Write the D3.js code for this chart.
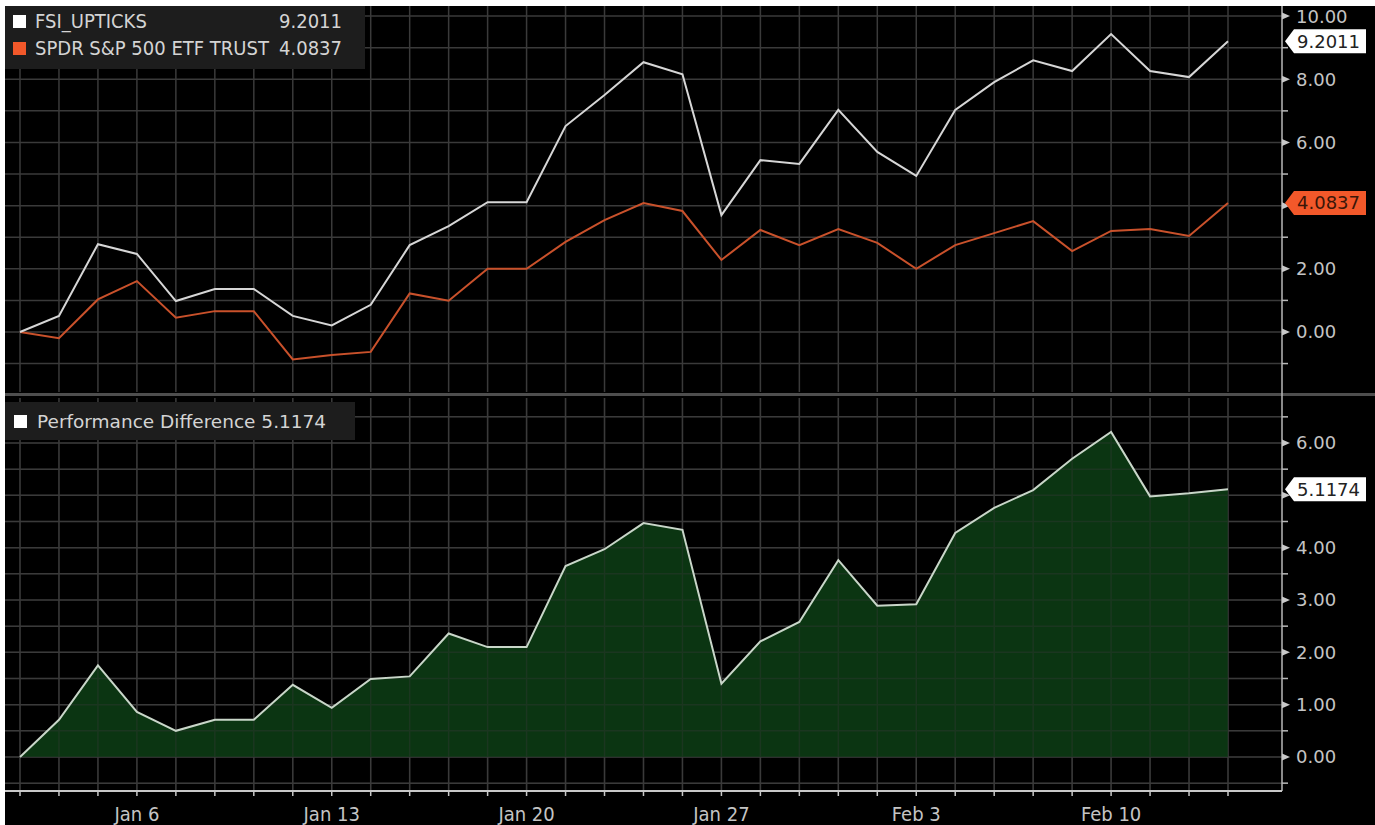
<!DOCTYPE html>
<html>
<head>
<meta charset="utf-8">
<script src="https://cdn.jsdelivr.net/npm/d3@7"></script>
<style>
  html, body { margin: 0; padding: 0; background: #fff; }
  svg { display: block; }
  .axis-label { fill: #c4c4c4; font: 18px "DejaVu Sans", sans-serif; }
  .x-label { fill: #c4c4c4; font: 20px "DejaVu Sans Condensed", "DejaVu Sans", sans-serif; font-stretch: condensed; }
  .legend-top { fill: #d4d4d4; font: 20px "DejaVu Sans Condensed", "DejaVu Sans", sans-serif; font-stretch: condensed; }
  .legend-bot { fill: #d4d4d4; font: 18.5px "DejaVu Sans", sans-serif; }
  .tag-text { font: 18px "DejaVu Sans", sans-serif; }
</style>
</head>
<body>
<div id="chart"></div>
<script>
// data ======================================================================
let dates = ["Jan 1", "Jan 2", "Jan 3", "Jan 6", "Jan 7", "Jan 8", "Jan 9", "Jan 10",
  "Jan 13", "Jan 14", "Jan 15", "Jan 16", "Jan 17", "Jan 20", "Jan 21", "Jan 22",
  "Jan 23", "Jan 24", "Jan 27", "Jan 28", "Jan 29", "Jan 30", "Jan 31", "Feb 3",
  "Feb 4", "Feb 5", "Feb 6", "Feb 7", "Feb 10", "Feb 11", "Feb 12", "Feb 13"];

let fsiUpticks = [0, 0.51, 2.78, 2.47, 0.98, 1.36, 1.36, 0.51, 0.21, 0.86, 2.75, 3.35,
  4.11, 4.11, 6.52, 7.5, 8.54, 8.16, 3.7, 5.44, 5.32, 7.03, 5.7, 4.94,
  7.03, 7.91, 8.6, 8.26, 9.43, 8.26, 8.07, 9.2011];

let spdr = [0, -0.2, 1.03, 1.61, 0.45, 0.66, 0.66, -0.87, -0.73, -0.63, 1.22, 0.99,
  2.0, 2.0, 2.85, 3.54, 4.08, 3.83, 2.28, 3.23, 2.75, 3.26, 2.82, 2.0,
  2.75, 3.13, 3.51, 2.56, 3.2, 3.26, 3.04, 4.0837];

let perfDiff = [0, 0.71, 1.75, 0.86, 0.5, 0.71, 0.71, 1.38, 0.94, 1.49, 1.54, 2.36,
  2.1, 2.1, 3.65, 3.97, 4.47, 4.34, 1.4, 2.21, 2.58, 3.76, 2.89, 2.92,
  4.28, 4.76, 5.1, 5.7, 6.21, 4.98, 5.04, 5.1174];

let xTickLabels = ["Jan 6", "Jan 13", "Jan 20", "Jan 27", "Feb 3", "Feb 10"];
let topTicks = [0, 2, 4, 6, 8, 10];
let topMinor = [-1, 1, 3, 5, 7, 9];
let botTicks = [0, 1, 2, 3, 4, 5, 6];
let botMinor = [-0.5, 0.5, 1.5, 2.5, 3.5, 4.5, 5.5, 6.5];

// layout ====================================================================
let width = 1375, height = 825;
let plotLeft = 5, plotTop = 6, axisX = 1282;

let svg = d3.select("#chart")
  .append("svg")
  .attr("width", width)
  .attr("height", height);

svg.append("rect")
  .attr("x", plotLeft)
  .attr("y", plotTop)
  .attr("width", width - plotLeft)
  .attr("height", height - plotTop)
  .attr("fill", "#000");

let x = d3.scalePoint()
  .domain(dates)
  .range([20, 1228]);

let yTop = d3.scaleLinear()
  .domain([-1.9, 10.32])
  .range([392, plotTop]);

let yBot = d3.scaleLinear()
  .domain([-0.65, 6.86])
  .range([791, 398]);

let gridColor = "#3a3a3a";

// grid ======================================================================
function grid(yScale, values, y0, y1) {
  let g = svg.append("g");
  g.selectAll(null)
    .data(values)
    .enter()
    .append("line")
    .attr("x1", plotLeft)
    .attr("x2", axisX)
    .attr("y1", d => yScale(d))
    .attr("y2", d => yScale(d))
    .style("stroke", gridColor)
    .style("stroke-width", 1.5);
  g.selectAll(null)
    .data(dates)
    .enter()
    .append("line")
    .attr("x1", d => x(d))
    .attr("x2", d => x(d))
    .attr("y1", y0)
    .attr("y2", y1)
    .style("stroke", gridColor)
    .style("stroke-width", 1.5);
  return g;
}

grid(yTop, d3.range(-1, 11), plotTop, 392);
grid(yBot, botTicks.concat(botMinor), 398, 791);

// top panel lines =========================================================
let lineTop = d3.line()
  .x((d, i) => x(dates[i]))
  .y(d => yTop(d));

svg.append("path")
  .datum(spdr)
  .attr("d", lineTop)
  .attr("fill", "none")
  .style("stroke", "#c9512b")
  .style("stroke-width", 2);

svg.append("path")
  .datum(fsiUpticks)
  .attr("d", lineTop)
  .attr("fill", "none")
  .style("stroke", "#d6d6d6")
  .style("stroke-width", 2);

// bottom panel area ========================================================
let area = d3.area()
  .x((d, i) => x(dates[i]))
  .y0(yBot(0))
  .y1(d => yBot(d));

svg.append("path")
  .datum(perfDiff)
  .attr("d", area)
  .attr("fill", "#0b3512");

// grid shows faintly through the fill
grid(yBot, botTicks.concat(botMinor), 398, 791).attr("opacity", 0.35);

svg.append("path")
  .datum(perfDiff)
  .attr("d", d3.line().x((d, i) => x(dates[i])).y(d => yBot(d)))
  .attr("fill", "none")
  .style("stroke", "#c9d6c9")
  .style("stroke-width", 2);

// separator + axes =========================================================
svg.append("rect")
  .attr("x", plotLeft)
  .attr("y", 393)
  .attr("width", width - plotLeft)
  .attr("height", 3)
  .attr("fill", "#4e4e4e");

svg.append("line")
  .attr("x1", axisX).attr("x2", axisX)
  .attr("y1", plotTop).attr("y2", 791)
  .style("stroke", "#b8b8b8")
  .style("stroke-width", 1.5);

svg.append("line")
  .attr("x1", plotLeft).attr("x2", axisX)
  .attr("y1", 791).attr("y2", 791)
  .style("stroke", "#c8c8c8")
  .style("stroke-width", 2);

svg.selectAll(null)
  .data(dates)
  .enter()
  .append("line")
  .attr("x1", d => x(d)).attr("x2", d => x(d))
  .attr("y1", 791).attr("y2", 796)
  .style("stroke", "#c8c8c8")
  .style("stroke-width", 1.5);

svg.selectAll(null)
  .data(xTickLabels)
  .enter()
  .append("text")
  .attr("class", "x-label")
  .attr("x", d => x(d))
  .attr("y", 821)
  .attr("text-anchor", "middle")
  .text(d => d);

// labels that sit under a value tag are not drawn (the tag covers them)
function rightAxis(yScale, major, minor, tagValues) {
  svg.selectAll(null)
    .data(minor)
    .enter()
    .append("line")
    .attr("x1", axisX).attr("x2", axisX + 6)
    .attr("y1", d => yScale(d)).attr("y2", d => yScale(d))
    .style("stroke", "#b8b8b8")
    .style("stroke-width", 1.5);

  svg.selectAll(null)
    .data(major)
    .enter()
    .append("path")
    .attr("d", d => "M" + axisX + "," + (yScale(d) - 3.5) + "L" + (axisX + 8) + "," + yScale(d) +
      "L" + axisX + "," + (yScale(d) + 3.5) + "Z")
    .attr("fill", "#c8c8c8");

  let visible = major.filter(d => tagValues.every(v => Math.abs(yScale(d) - yScale(v)) > 22));

  svg.selectAll(null)
    .data(visible)
    .enter()
    .append("text")
    .attr("class", "axis-label")
    .attr("x", 1296)
    .attr("y", d => yScale(d))
    .attr("dy", "0.36em")
    .text(d => d.toFixed(2));
}

let lastFsi = fsiUpticks[fsiUpticks.length - 1];
let lastSpdr = spdr[spdr.length - 1];
let lastDiff = perfDiff[perfDiff.length - 1];

rightAxis(yTop, topTicks, topMinor, [lastFsi, lastSpdr]);
rightAxis(yBot, botTicks, botMinor, [lastDiff]);

// value tags ===============================================================
function tag(yScale, value, fill, textFill) {
  let yc = yScale(value), x0 = axisX + 3, x1 = 1366, h = 12;
  svg.append("path")
    .attr("d", "M" + x0 + "," + yc + "L" + (x0 + 9) + "," + (yc - h) + "L" + x1 + "," + (yc - h) +
      "L" + x1 + "," + (yc + h) + "L" + (x0 + 9) + "," + (yc + h) + "Z")
    .attr("fill", fill);
  svg.append("text")
    .attr("class", "tag-text")
    .attr("x", 1297)
    .attr("y", yc)
    .attr("dy", "0.36em")
    .attr("fill", textFill)
    .text(value.toFixed(4));
}

tag(yTop, lastFsi, "#ffffff", "#222");
tag(yTop, lastSpdr, "#f2582a", "#3a1608");
tag(yBot, lastDiff, "#ffffff", "#222");

// legends ==================================================================
let legTop = svg.append("g");
legTop.append("rect")
  .attr("x", plotLeft).attr("y", plotTop)
  .attr("width", 360).attr("height", 63)
  .attr("fill", "#1d1d1d");

let topSeries = [
  { name: "FSI_UPTICKS", value: lastFsi, color: "#ffffff" },
  { name: "SPDR S&P 500 ETF TRUST", value: lastSpdr, color: "#f2582a" }
];

topSeries.forEach((s, i) => {
  let yc = 21 + i * 27;
  legTop.append("rect")
    .attr("x", 13).attr("y", yc - 6)
    .attr("width", 13).attr("height", 13)
    .attr("fill", s.color);
  legTop.append("text")
    .attr("class", "legend-top")
    .attr("x", 35).attr("y", yc).attr("dy", "0.36em")
    .text(s.name);
  legTop.append("text")
    .attr("class", "legend-top")
    .attr("x", 342).attr("y", yc).attr("dy", "0.36em")
    .attr("text-anchor", "end")
    .text(s.value.toFixed(4));
});

let legBot = svg.append("g");
legBot.append("rect")
  .attr("x", plotLeft).attr("y", 402)
  .attr("width", 350).attr("height", 38)
  .attr("fill", "#1d1d1d");
legBot.append("rect")
  .attr("x", 14).attr("y", 415)
  .attr("width", 13).attr("height", 13)
  .attr("fill", "#ffffff");
legBot.append("text")
  .attr("class", "legend-bot")
  .attr("x", 37).attr("y", 421).attr("dy", "0.36em")
  .text("Performance Difference " + lastDiff.toFixed(4));
</script>
</body>
</html>
